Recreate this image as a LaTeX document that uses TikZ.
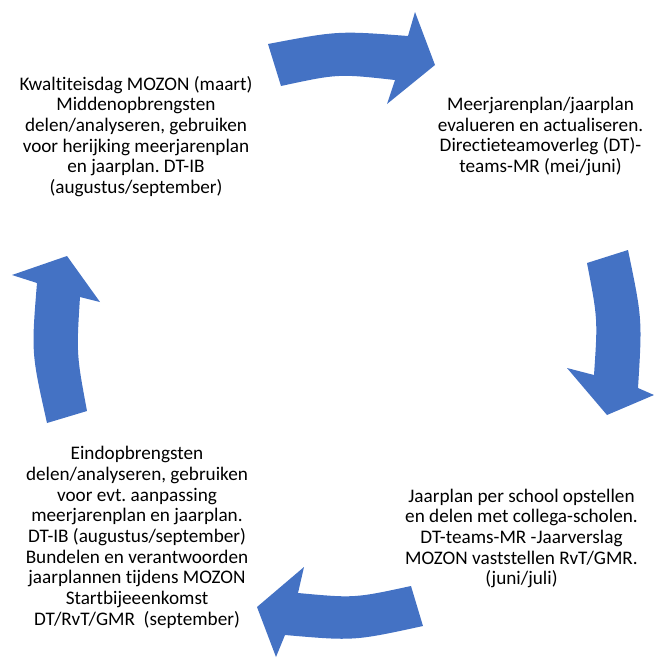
\documentclass[tikz,border=0pt]{standalone}
\usepackage{fontspec}
\setmainfont{Carlito}[Ligatures=NoCommon]
\frenchspacing
\definecolor{cycleblue}{HTML}{4472C4}

\begin{document}
\begin{tikzpicture}[
x=0.75pt,y=-0.75pt,
font=\fontsize{14.4}{15.5}\selectfont,
phase/.style={align=center,inner sep=0pt},
cyclearrow/.style={fill=cycleblue,draw=none}
]
\useasboundingbox (0,0) rectangle (654,658);

% Phase texts
\node [phase] (kwaliteit) at (136,136.5) {Kwaltiteisdag MOZON (maart)\\Middenopbrengsten\\delen/analyseren, gebruiken\\voor herijking meerjarenplan\\en jaarplan. DT-IB\\(augustus/september)};
\node [phase] (evaluatie) at (540.5,136.5) {Meerjarenplan/jaarplan\\evalueren en actualiseren.\\Directieteamoverleg (DT)-\\teams-MR (mei/juni)};
\node [phase] (jaarplan) at (521.5,538.5) {Jaarplan per school opstellen\\en delen met collega-scholen.\\DT-teams-MR -Jaarverslag\\MOZON vaststellen RvT/GMR.\\(juni/juli)};
\node [phase] (eindopbrengst) at (137,537.5) {Eindopbrengsten\\delen/analyseren, gebruiken\\voor evt. aanpassing\\meerjarenplan en jaarplan.\\DT-IB (augustus/september)\\Bundelen en verantwoorden\\jaarplannen tijdens MOZON\\Startbijeeenkomst\\DT/RvT/GMR\ \ (september)};

% Cycle arrows: top, right, bottom, left
\fill [cyclearrow] (268,44) .. controls (338,30.7) .. (408,36) -- (415,12) -- (435,65) -- (387,104) -- (395,80) .. controls (338,73.7) .. (281,86) -- cycle;
\fill [cyclearrow] (587,263) -- (628,250) .. controls (642.3,319) .. (638,388) -- (654,395) -- (607,415) -- (567,368) -- (594,375) .. controls (597.8,319) .. (587,263) -- cycle;
\fill [cyclearrow] (411,586) -- (423,626) .. controls (354,641) .. (285,635) -- (276,657) -- (257,607) -- (304,567) -- (298,593) .. controls (354.5,598.2) .. (411,586) -- cycle;
\fill [cyclearrow] (47,423) -- (87,411) .. controls (76.4,354) .. (80,297) -- (100,302) -- (67,256) -- (12,275) -- (37,283) .. controls (31.3,353) .. (47,423) -- cycle;

\end{tikzpicture}
\end{document}
